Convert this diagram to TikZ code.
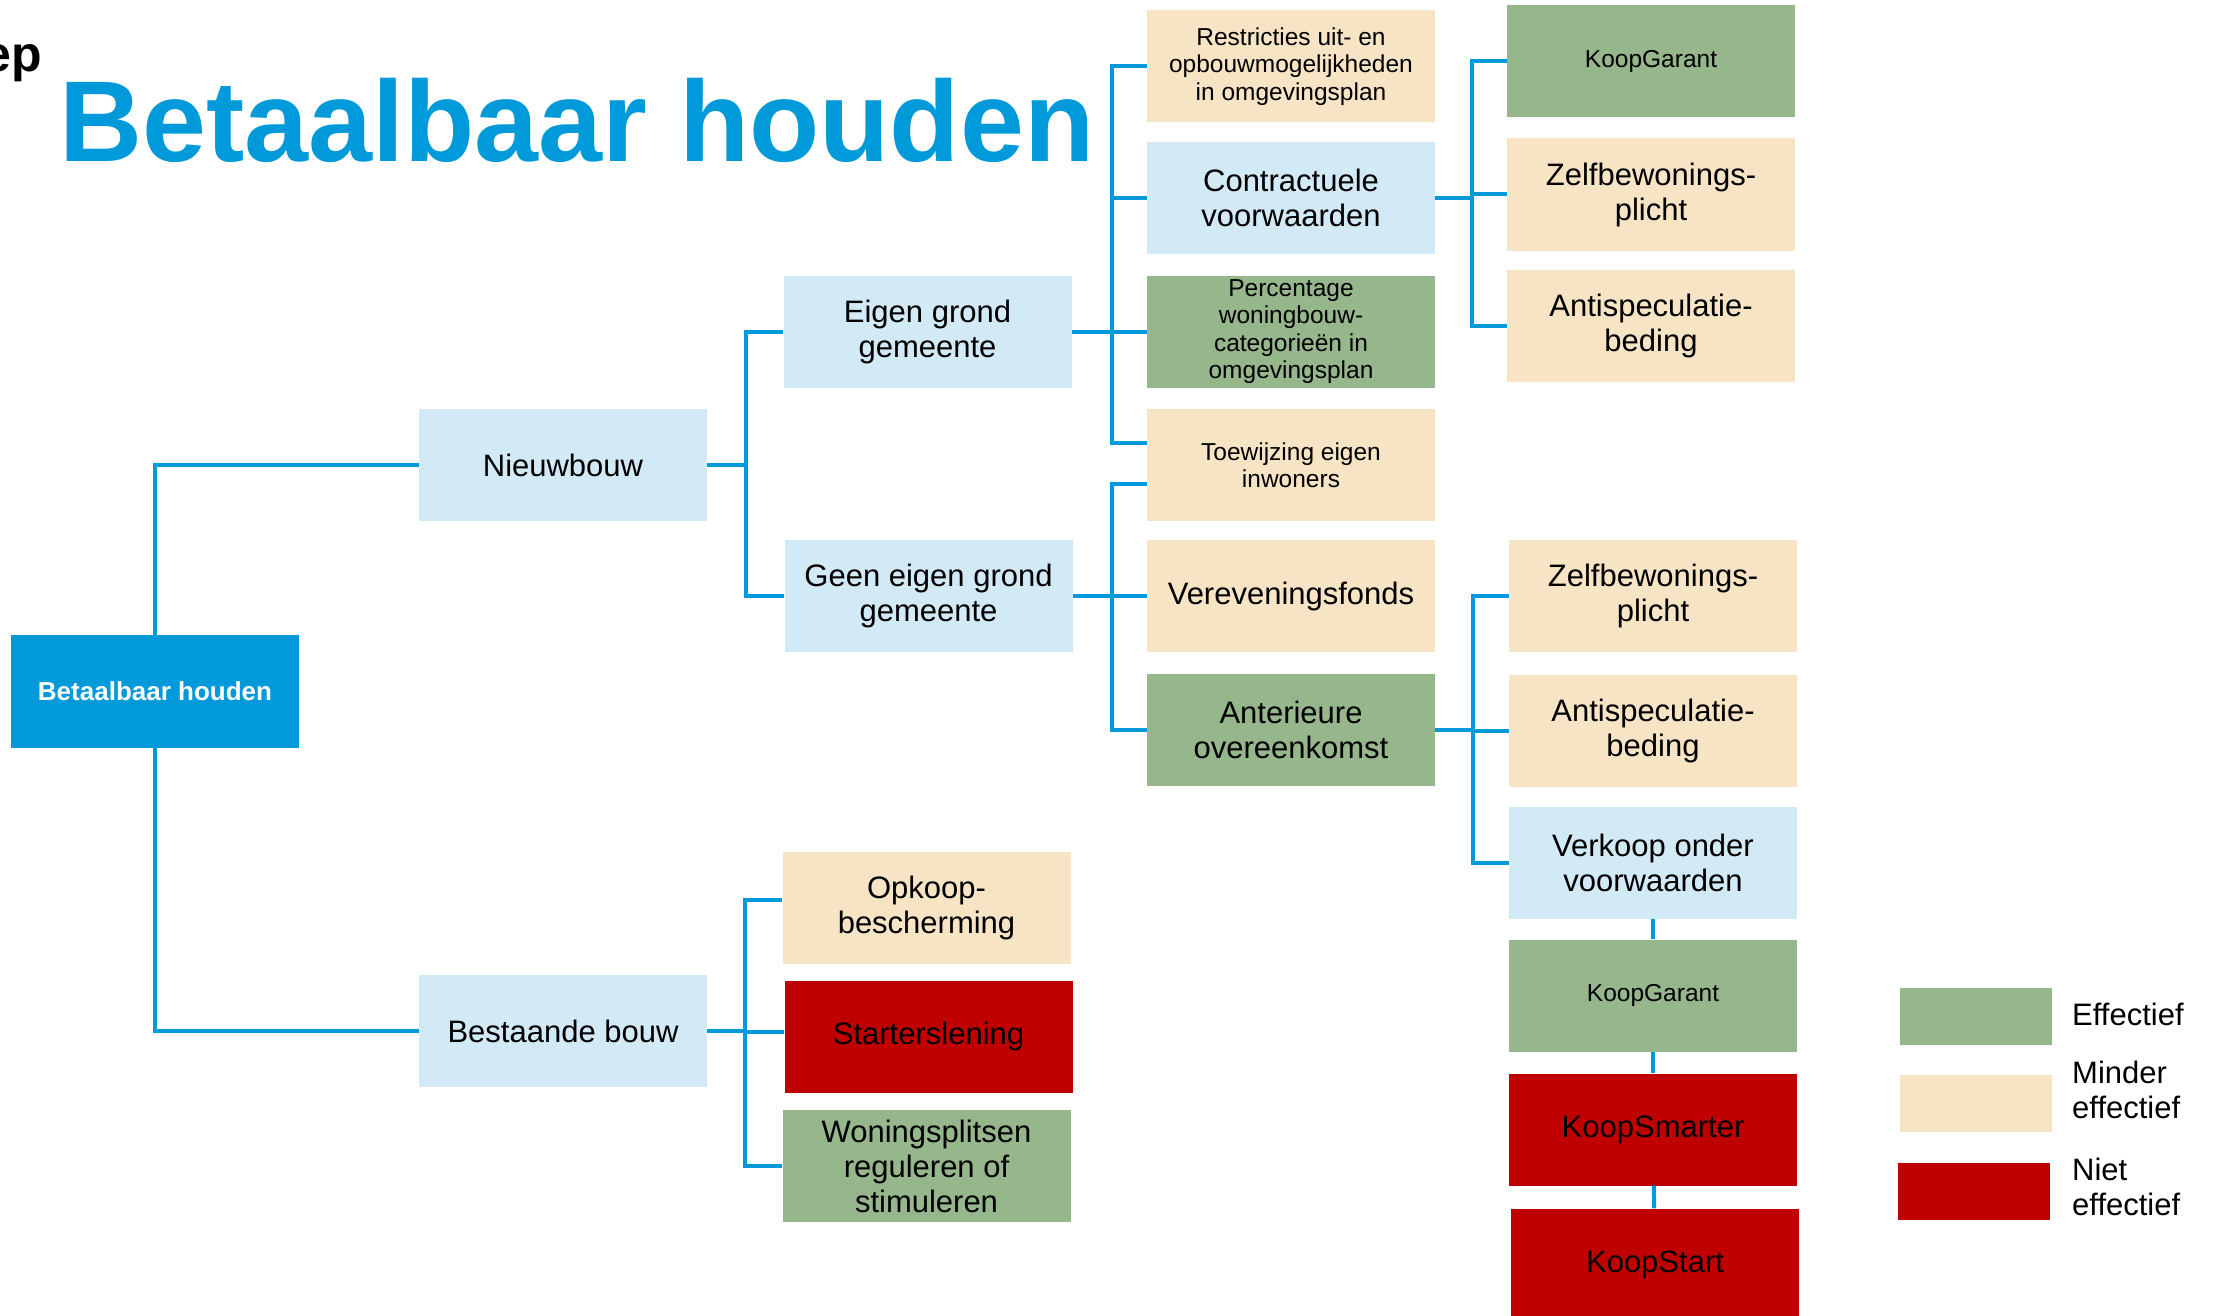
\documentclass[tikz,border=0pt]{standalone}
\usepackage{fontspec}
\setmainfont{Liberation Sans}
\usepackage{tikz}
\usetikzlibrary{positioning}
\definecolor{accent}{HTML}{0099D9}
\definecolor{boxblue}{HTML}{D2E9F6}
\definecolor{boxbeige}{HTML}{F7E4C4}
\definecolor{boxgreen}{HTML}{96B68C}
\definecolor{boxred}{HTML}{C00000}
\newcommand{\mainsize}{\fontsize{31}{35}\selectfont}
\newcommand{\smallsize}{\fontsize{24.5}{27.5}\selectfont}

\begin{document}
\begin{tikzpicture}[x=1pt, y=-1pt,
            box/.style={rectangle, minimum width=288pt, minimum height=112pt, inner sep=0pt, align=center, font=\mainsize, text=black},
            bl/.style={box, fill=boxblue},
            bg/.style={box, fill=boxbeige},
            gr/.style={box, fill=boxgreen},
            rd/.style={box, fill=boxred},
            sm/.style={font=\smallsize},
            legbox/.style={rectangle, minimum width=152pt, minimum height=57pt, inner sep=0pt},
            legtxt/.style={anchor=base west, inner sep=0pt, align=left, font=\mainsize},
            link/.style={accent, line width=4pt}]
            \useasboundingbox (0,0) rectangle (2213,1316);
            % title
            \node[anchor=base east, inner sep=0pt, font=\bfseries\fontsize{50}{55}\selectfont] (stap) at (42,72) {ep};
            \node[anchor=base west, inner sep=0pt, text=accent, font=\bfseries\fontsize{115}{120}\selectfont] (title) at (59,162) {Betaalbaar houden};
            % tree
            \node[box, fill=accent, minimum height=113pt, text=white, font=\bfseries\fontsize{26}{30}\selectfont] (root) at (155,691.5) {Betaalbaar houden};
            \node[bl] (nieuw) at (563,465) {Nieuwbouw};
            \node[bl] (bestaand) at (563,1031) {Bestaande bouw};
            \node[bl] (eigen) at (927.5,331.5) {Eigen grond\\gemeente};
            \node[bl] (geen) at (928.5,595.5) {Geen eigen grond\\gemeente};
            \node[bg] (opkoop) at (926.5,908) {Opkoop-\\bescherming};
            \node[rd] (starter) at (928.5,1036.5) {Starterslening};
            \node[gr] (splits) at (926.5,1166) {Woningsplitsen\\reguleren of\\stimuleren};
            \node[bg, sm] (restr) at (1291,66.5) {Restricties uit- en\\opbouwmogelijkheden\\in omgevingsplan};
            \node[bl] (contract) at (1291,198) {Contractuele\\voorwaarden};
            \node[gr, sm] (perc) at (1291,331.5) {Percentage\\woningbouw-\\categorieën in\\omgevingsplan};
            \node[bg, sm] (toew) at (1291,465) {Toewijzing eigen\\inwoners};
            \node[bg] (verev) at (1291,596) {Vereveningsfonds};
            \node[gr] (anter) at (1291,729.5) {Anterieure\\overeenkomst};
            \node[gr, sm] (kg1) at (1651,61) {KoopGarant};
            \node[bg] (zb1) at (1651,194.5) {Zelfbewonings-\\plicht};
            \node[bg] (as1) at (1651,326) {Antispeculatie-\\beding};
            \node[bg] (zb2) at (1653,596) {Zelfbewonings-\\plicht};
            \node[bg] (as2) at (1653,730.5) {Antispeculatie-\\beding};
            \node[bl] (verk) at (1653,863) {Verkoop onder\\voorwaarden};
            \node[gr, sm] (kg2) at (1653,995.5) {KoopGarant};
            \node[rd] (ksm) at (1653,1129.5) {KoopSmarter};
            \node[rd] (kst) at (1655,1264.5) {KoopStart};
            % connectors
            \draw[link] (root) |- (nieuw);
            \draw[link] (root) |- (bestaand);
            \foreach \t in {eigen,geen}
                \draw[link] (nieuw.east) -- ++(39,0) |- (\t.west);
            \draw[link] (bestaand.east) -- ++(38,0) |- ([yshift=8pt]opkoop.west);
            \draw[link] (bestaand.east) -- ++(38,0) |- ([yshift=5pt]starter.west);
            \draw[link] (bestaand.east) -- ++(38,0) |- (splits.west);
            \foreach \t in {restr,contract,perc}
                \draw[link] (eigen.east) -- ++(40,0) |- (\t.west);
            \draw[link] (eigen.east) -- ++(40,0) |- ([yshift=22pt]toew.west);
            \draw[link] (geen.east) -- ++(39,0) |- ([yshift=-19pt]toew.west);
            \foreach \t in {verev,anter}
                \draw[link] (geen.east) -- ++(39,0) |- (\t.west);
            \foreach \t in {kg1,zb1,as1}
                \draw[link] (contract.east) -- ++(37,0) |- (\t.west);
            \foreach \t in {zb2,as2,verk}
                \draw[link] (anter.east) -- ++(38,0) |- (\t.west);
            \draw[link] (verk) -- (kg2);
            \draw[link] (kg2) -- (ksm);
            \draw[link] (ksm) -- (kst);
            % legend
            \node[legbox, fill=boxgreen] (leggreen) at (1976,1016.5) {};
            \node[legbox, fill=boxbeige] (legbeige) at (1976,1103.5) {};
            \node[legbox, fill=boxred] (legred) at (1974,1191) {};
            \node[legtxt] (legeff) at (2072,1025) {Effectief};
            \node[legtxt] (legmin) at (2072,1118) {Minder\\effectief};
            \node[legtxt] (legniet) at (2072,1215) {Niet\\effectief};
        \end{tikzpicture}
\end{document}
